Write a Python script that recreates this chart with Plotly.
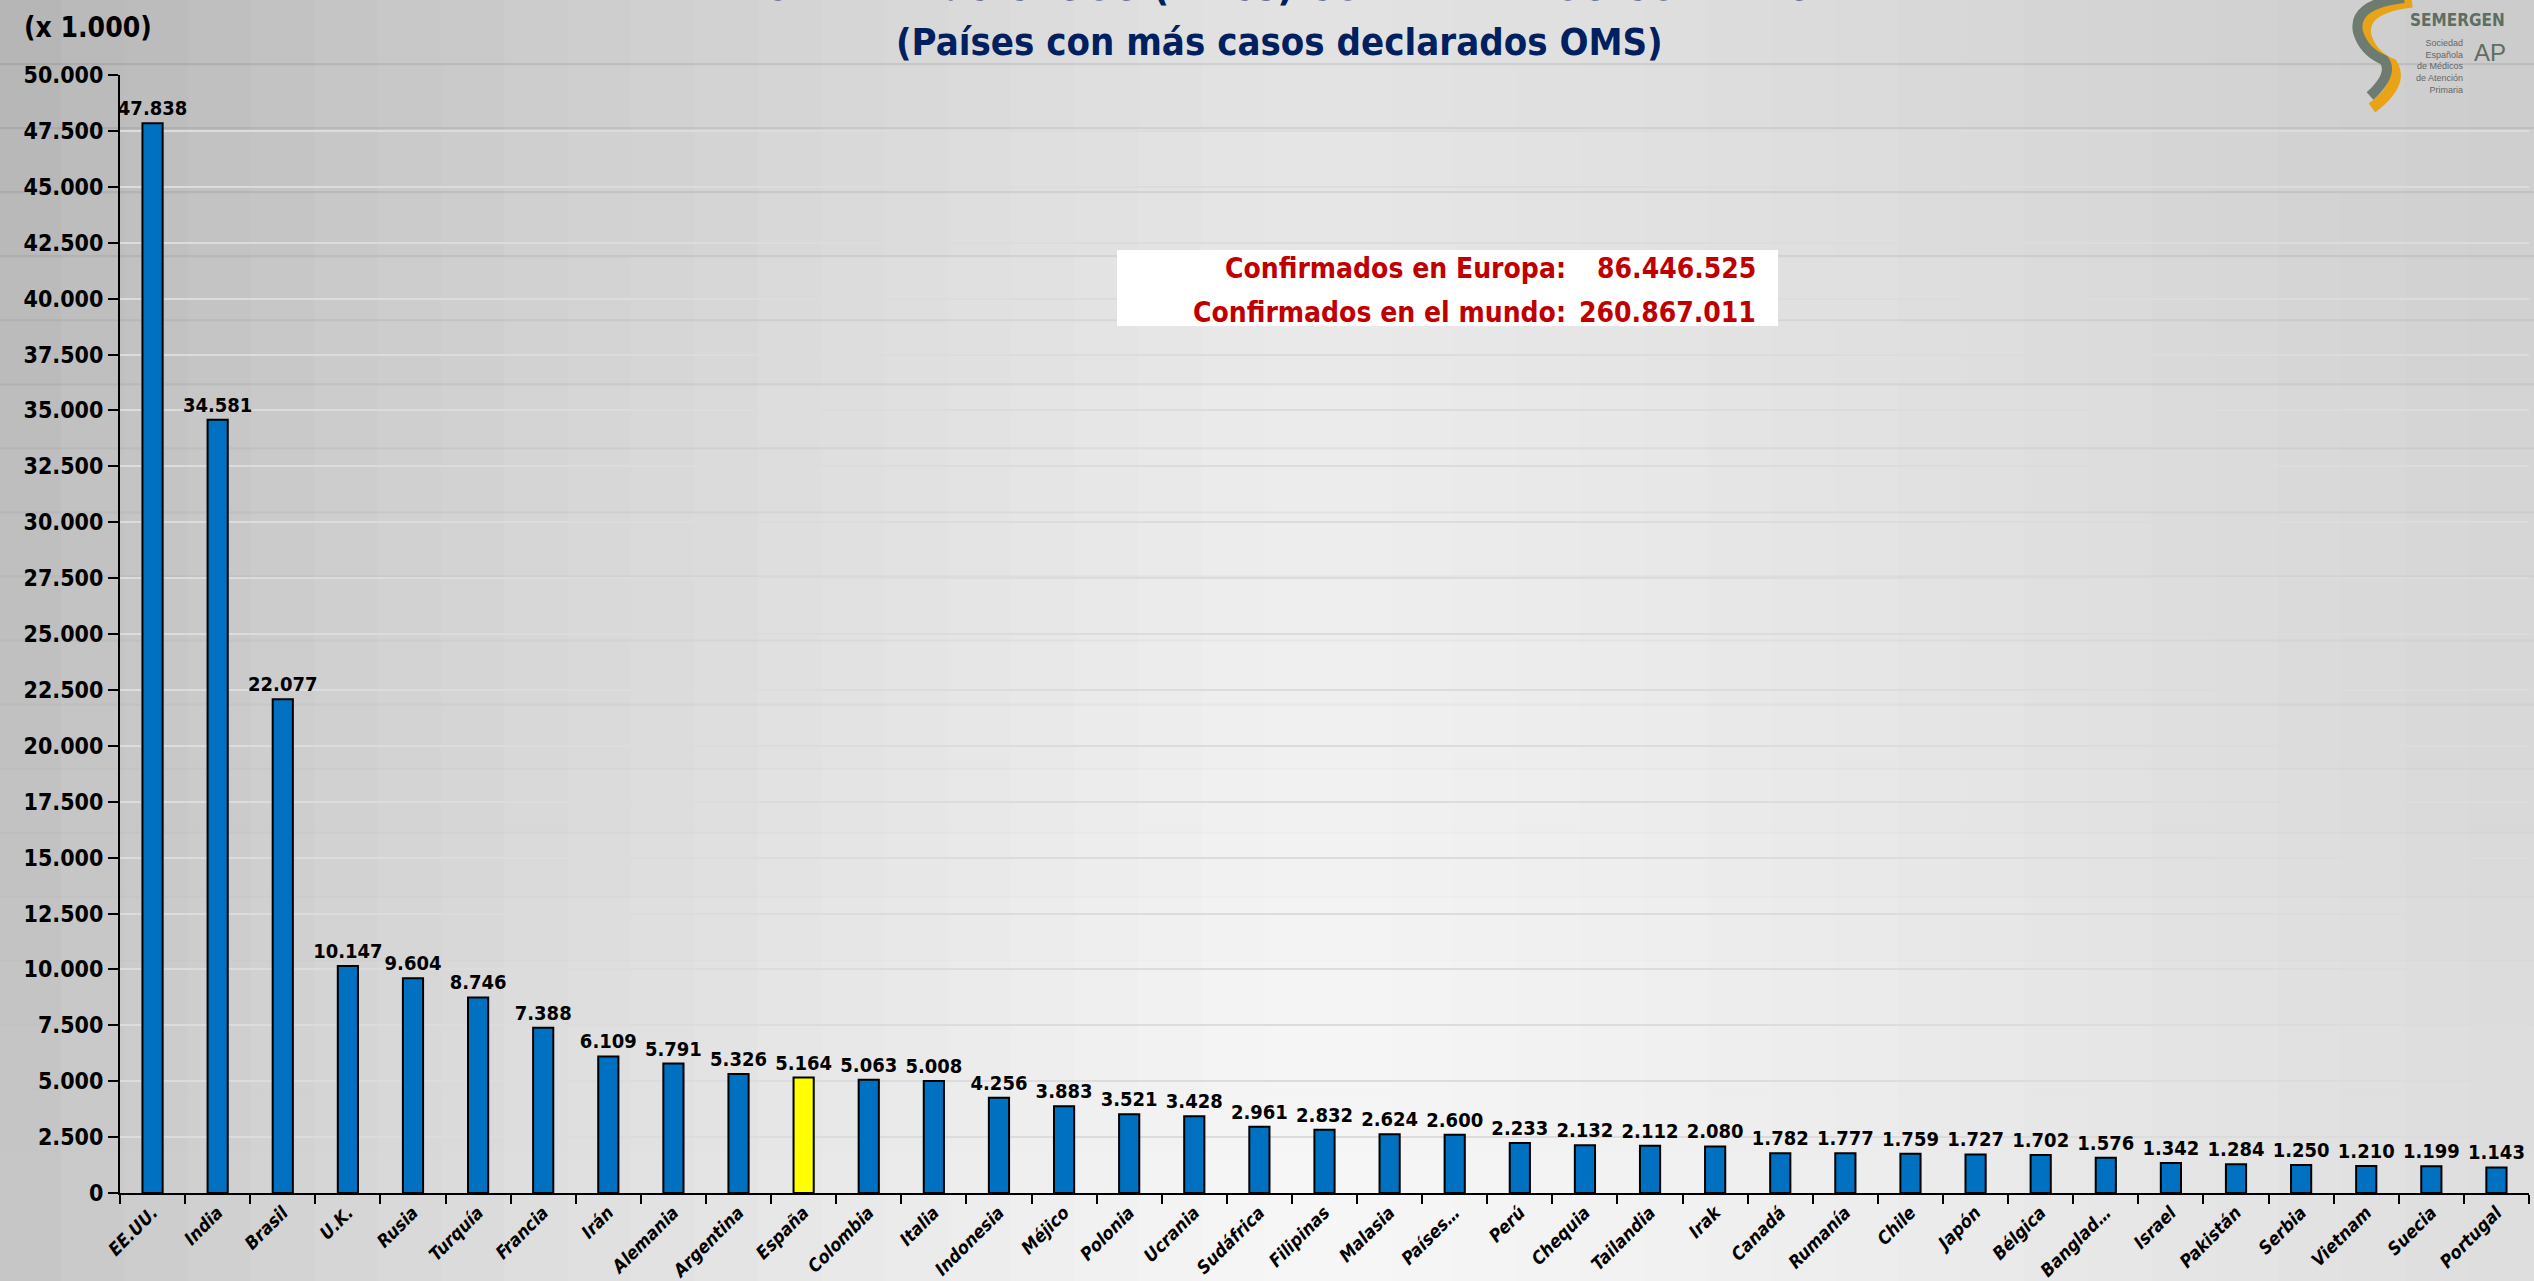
import plotly.graph_objects as go

# datos (miles de casos)
paises = ["EE.UU.", "India", "Brasil", "U.K.", "Rusia", "Turquía", "Francia", "Irán",
          "Alemania", "Argentina", "España", "Colombia", "Italia", "Indonesia", "Méjico",
          "Polonia", "Ucrania", "Sudáfrica", "Filipinas", "Malasia", "Países…", "Perú",
          "Chequia", "Tailandia", "Irak", "Canadá", "Rumanía", "Chile", "Japón", "Bélgica",
          "Banglad…", "Israel", "Pakistán", "Serbia", "Vietnam", "Suecia", "Portugal"]
casos = [47838, 34581, 22077, 10147, 9604, 8746, 7388, 6109, 5791, 5326, 5164, 5063,
         5008, 4256, 3883, 3521, 3428, 2961, 2832, 2624, 2600, 2233, 2132, 2112, 2080,
         1782, 1777, 1759, 1727, 1702, 1576, 1342, 1284, 1250, 1210, 1199, 1143]
destacado = "España"

titulo1 = "TOTAL Nº de CASOS (miles) CONFIRMADOS COVID-19"
titulo2 = "(Países con más casos declarados OMS)"
etiquetas_caja = ["Confirmados en Europa:", "Confirmados en el mundo:"]
valores_caja = ["86.446.525", "260.867.011"]

FONT = "Liberation Sans Narrow, Arial Narrow, DejaVu Sans Condensed, sans-serif"
W, H = 2534, 1281
ML, MR, MT, MB = 120, 5, 75, 88
PW, PH = W - ML - MR, H - MT - MB


def px(x):
    return (x - ML) / PW


def py(y):
    return (H - MB - y) / PH


def ruta(puntos):
    # puntos en pixeles -> path en coordenadas paper
    partes = []
    for cmd, pts in puntos:
        partes.append(cmd + " ".join(f"{px(a):.5f},{py(b):.5f}" for a, b in pts))
    return " ".join(partes)


colores = ["#FFFF00" if p == destacado else "#0070C0" for p in paises]

fig = go.Figure()
fig.add_trace(go.Bar(
    x=paises, y=casos,
    marker=dict(color=colores, line=dict(color="black", width=2)),
    texttemplate="%{y:,d}", textposition="outside", constraintext="none",
    textfont=dict(family=FONT, size=20, color="black", weight="bold"),
    cliponaxis=False, width=0.31,
))

# fondo degradado gris
shapes = []
n = 40
for i in range(n):
    t = i / (n - 1)
    if t < 0.5:
        v = int(198 + (247 - 198) * (t / 0.5) ** 0.8)
    else:
        v = int(247 - (247 - 222) * ((t - 0.5) / 0.5) ** 1.3)
    shapes.append(dict(type="rect", xref="paper", yref="paper", layer="below",
                       x0=px(i * W / n) - 0.001, x1=px((i + 1) * W / n) + 0.001,
                       y0=-0.2, y1=1.2, line=dict(width=0),
                       fillcolor=f"rgb({v},{v},{v})"))
m = 20
for j in range(m):
    t = j / (m - 1)
    a = 0.08 * (1 - t) ** 1.5
    shapes.append(dict(type="rect", xref="paper", yref="paper", layer="below",
                       x0=-0.1, x1=1.1, y0=py((j + 1) * H / m) - 0.001,
                       y1=py(j * H / m) + 0.001, line=dict(width=0),
                       fillcolor=f"rgba(0,0,0,{a:.3f})"))
# caja blanca de totales
shapes.append(dict(type="rect", xref="paper", yref="paper", layer="above",
                   x0=px(1117), x1=px(1778), y0=py(326), y1=py(250),
                   line=dict(width=0), fillcolor="white"))
# logo: trazo en S
shapes.append(dict(type="path", xref="paper", yref="paper", layer="above",
                   path=ruta([("M", [(2412, 2)]), ("Q", [(2360, 8), (2366, 36)]),
                              ("Q", [(2372, 56), (2392, 64)]),
                              ("Q", [(2404, 84), (2372, 108)])]),
                   line=dict(color="#E8A317", width=11)))
shapes.append(dict(type="path", xref="paper", yref="paper", layer="above",
                   path=ruta([("M", [(2404, -2)]), ("Q", [(2352, 4), (2358, 32)]),
                              ("Q", [(2364, 52), (2384, 60)]),
                              ("Q", [(2394, 74), (2370, 96)])]),
                   line=dict(color="#6E7B70", width=10)))

annotations = [
    dict(text=titulo1, x=px(1276), y=py(-14), xref="paper", yref="paper",
         showarrow=False, xanchor="center", yanchor="middle",
         font=dict(family=FONT, size=40, color="#002060", weight="bold")),
    dict(text=titulo2, x=px(1279), y=py(42), xref="paper", yref="paper",
         showarrow=False, xanchor="center", yanchor="middle",
         font=dict(family=FONT, size=38, color="#002060", weight="bold")),
    dict(text="(x 1.000)", x=px(22), y=py(28), xref="paper", yref="paper",
         showarrow=False, xanchor="left", yanchor="middle",
         font=dict(family=FONT, size=28, color="black", weight="bold")),
    dict(text="SEMERGEN", x=px(2408), y=py(20), xref="paper", yref="paper",
         showarrow=False, xanchor="left", yanchor="middle",
         font=dict(family=FONT, size=17, color="#5E6E62", weight="bold")),
    dict(text="AP", x=px(2472), y=py(52), xref="paper", yref="paper",
         showarrow=False, xanchor="left", yanchor="middle",
         font=dict(family="Liberation Sans, sans-serif", size=24, color="#5E6E62")),
    dict(text="Sociedad<br>Española<br>de Médicos<br>de Atención<br>Primaria",
         x=px(2466), y=py(66), xref="paper", yref="paper", align="right",
         showarrow=False, xanchor="right", yanchor="middle",
         font=dict(family="Liberation Sans, sans-serif", size=9, color="#666666")),
]
for k, (lab, val) in enumerate(zip(etiquetas_caja, valores_caja)):
    yy = py(268 + 44 * k)
    annotations.append(dict(text=lab, x=px(1568), y=yy, xref="paper", yref="paper",
                            showarrow=False, xanchor="right", yanchor="middle",
                            font=dict(family=FONT, size=28, color="#C00000", weight="bold")))
    annotations.append(dict(text=val, x=px(1758), y=yy, xref="paper", yref="paper",
                            showarrow=False, xanchor="right", yanchor="middle",
                            font=dict(family=FONT, size=28, color="#C00000", weight="bold")))

fig.update_layout(
    width=W, height=H,
    margin=dict(l=ML, r=MR, t=MT, b=MB, autoexpand=False),
    paper_bgcolor="white", plot_bgcolor="rgba(0,0,0,0)",
    separators=",.", showlegend=False,
    shapes=shapes, annotations=annotations,
    xaxis=dict(range=[-0.5, len(paises) - 0.5], showline=True, linecolor="black",
               linewidth=2, ticks="outside", tickson="boundaries", ticklen=9,
               tickwidth=2, tickcolor="black", tickangle=-45, automargin=False,
               tickfont=dict(family=FONT, size=18, color="black", weight="bold",
                             style="italic")),
    yaxis=dict(range=[0, 50000], dtick=2500, tickformat=",d", showline=True,
               linecolor="black", linewidth=2, ticks="outside", ticklen=10,
               tickwidth=2, tickcolor="black", gridcolor="#DCDCDC", gridwidth=2,
               zeroline=False, automargin=False,
               tickfont=dict(family=FONT, size=23, color="black", weight="bold")),
)

fig.write_html("out.html", config={"displayModeBar": False},
               post_script="document.body.style.margin='0';")
